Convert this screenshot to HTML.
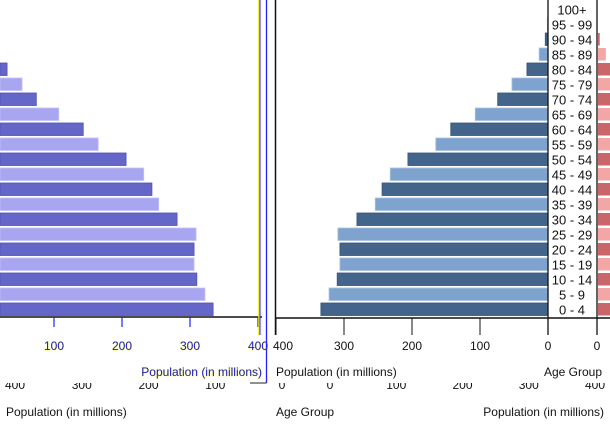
<!DOCTYPE html>
<html><head><meta charset="utf-8"><style>
html,body{margin:0;padding:0;background:#fff;}
svg{display:block;font-family:"Liberation Sans",sans-serif;}
</style></head><body>
<svg id="chart" width="610" height="425" viewBox="0 0 610 425">
<defs><clipPath id="botclip"><rect x="0" y="383" width="610" height="42"/></clipPath>
<clipPath id="femclip"><rect x="598" y="0" width="12" height="317"/></clipPath></defs>
<g id="left-bars"></g>
<g id="right-bars"></g>
<g id="fem-bars" clip-path="url(#femclip)"></g>
<g id="labels"></g>
<g id="axes"></g>
</svg>
<script>
const ageGroups=["0 - 4","5 - 9","10 - 14","15 - 19","20 - 24","25 - 29","30 - 34","35 - 39","40 - 44","45 - 49","50 - 54","55 - 59","60 - 64","65 - 69","70 - 74","75 - 79","80 - 84","85 - 89","90 - 94","95 - 99","100+"];
const maleValues=[334,322,310,306,306,309,281,254,244,232,206,165,143,107,74,53,31,13,4,1,0];
const femaleValues=[314,302,290,286,288,292,272,250,242,232,210,172,150,118,86,66,40,13,4,1,0];
const ticks=[100,200,300,400];
const rightTicks=[400,300,200,100,0];
const bottomTicks=[400,300,200,100,0,0,100,200,300,400];

const NS="http://www.w3.org/2000/svg";
const K=0.68;
const rowTop=i=>303-15*i;
const xLeft=v=>-14+v*K;
const xRight=v=>548-v*K;
const xFem=v=>597+v*K;
const xBotL=v=>282-v*0.6675;
const xBotR=v=>330+v*0.6625;
function mk(tag,attrs,parent){const e=document.createElementNS(NS,tag);for(const k in attrs)e.setAttribute(k,attrs[k]);parent.appendChild(e);return e;}
const gL=document.getElementById('left-bars'),gR=document.getElementById('right-bars'),gF=document.getElementById('fem-bars'),gT=document.getElementById('labels'),gA=document.getElementById('axes');

maleValues.forEach((v,i)=>{
  const dark=i%2===0;
  if(v>0){
    let b=mk('rect',{x:0,y:rowTop(i),width:Math.max(0,xLeft(v)),height:12.5,fill:dark?'#6466c8':'#a8a6f0',stroke:dark?'#5052b8':'#c4c2f6','stroke-width':0.8},gL);
    
    
    let r=mk('rect',{x:xRight(v),y:rowTop(i),width:v*K,height:12.5,fill:dark?'#43658b':'#7fa3cf',stroke:dark?'#33557b':'#a9c1de','stroke-width':0.8},gR);
    
    
  }
});
femaleValues.forEach((v,i)=>{
  const dark=i%2===0;
  if(v>0){
    let f=mk('rect',{x:598,y:rowTop(i),width:xFem(v)-598,height:12.5,fill:dark?'#c9666a':'#f2a6a6'},gF);
    
    
  }
});
ageGroups.forEach((a,i)=>{
  let t=mk('text',{x:572,y:rowTop(i)+11.5,'text-anchor':'middle','font-size':13,fill:'#111'},gT);
  t.textContent=a;
  
  
});

mk('line',{x1:0,y1:317,x2:262,y2:317,stroke:'#111','stroke-width':1.5},gA);
ticks.forEach(v=>{
  mk('line',{x1:xLeft(v),y1:317,x2:xLeft(v),y2:327,stroke:'#22f','stroke-width':1.2},gA);
  let t=mk('text',{x:xLeft(v),y:350,'text-anchor':'middle','font-size':12,fill:'#22c',stroke:'#ee0','stroke-width':0.4,'paint-order':'stroke'},gA);
  t.textContent=v;
  
  
});
let lt=mk('text',{x:262,y:376,'text-anchor':'end','font-size':12,fill:'#22c',stroke:'#ee0','stroke-width':0.4,'paint-order':'stroke'},gA);
lt.textContent='Population (in millions)';


mk('line',{x1:259,y1:0,x2:259,y2:335,stroke:'#ee0','stroke-width':1.6},gA);
mk('line',{x1:260,y1:0,x2:260,y2:335,stroke:'#22f','stroke-width':1},gA);
mk('line',{x1:266.5,y1:0,x2:266.5,y2:383,stroke:'#22f','stroke-width':1.3},gA);
mk('line',{x1:250,y1:383,x2:266.5,y2:383,stroke:'#222','stroke-width':1},gA);
mk('line',{x1:275.5,y1:0,x2:275.5,y2:335,stroke:'#111','stroke-width':1.5},gA);
mk('line',{x1:275,y1:318,x2:610,y2:318,stroke:'#111','stroke-width':1.5},gA);
mk('line',{x1:548,y1:0,x2:548,y2:335,stroke:'#111','stroke-width':1.3},gA);
mk('line',{x1:597,y1:0,x2:597,y2:335,stroke:'#111','stroke-width':1.3},gA);
rightTicks.forEach(v=>{
  mk('line',{x1:xRight(v),y1:318,x2:xRight(v),y2:335,stroke:'#111','stroke-width':1},gA);
  let t=mk('text',{x:v===400?283:xRight(v),y:350,'text-anchor':'middle','font-size':12,fill:'#111'},gA);
  t.textContent=v;
  
  
});
let z=mk('text',{x:597,y:350,'text-anchor':'middle','font-size':12,fill:'#111'},gA);z.textContent='0';

let rt=mk('text',{x:276,y:376,'font-size':12,fill:'#111'},gA);rt.textContent='Population (in millions)';

let ag=mk('text',{x:602,y:376,'text-anchor':'end','font-size':12,fill:'#111'},gA);ag.textContent='Age Group';

const gB=mk('g',{'clip-path':'url(#botclip)'},gA);
bottomTicks.forEach((v,i)=>{
  const x=i<5?xBotL(v):xBotR(v);
  let t=mk('text',{x:x,y:389,'text-anchor':'middle','font-size':12,fill:'#111'},gB);
  t.textContent=v;
  
  
});
let b1=mk('text',{x:6,y:416,'font-size':12,fill:'#111'},gA);b1.textContent='Population (in millions)';

let b2=mk('text',{x:276,y:416,'font-size':12,fill:'#111'},gA);b2.textContent='Age Group';

let b3=mk('text',{x:604,y:416,'text-anchor':'end','font-size':12,fill:'#111'},gA);b3.textContent='Population (in millions)';

</script>
</body></html>
